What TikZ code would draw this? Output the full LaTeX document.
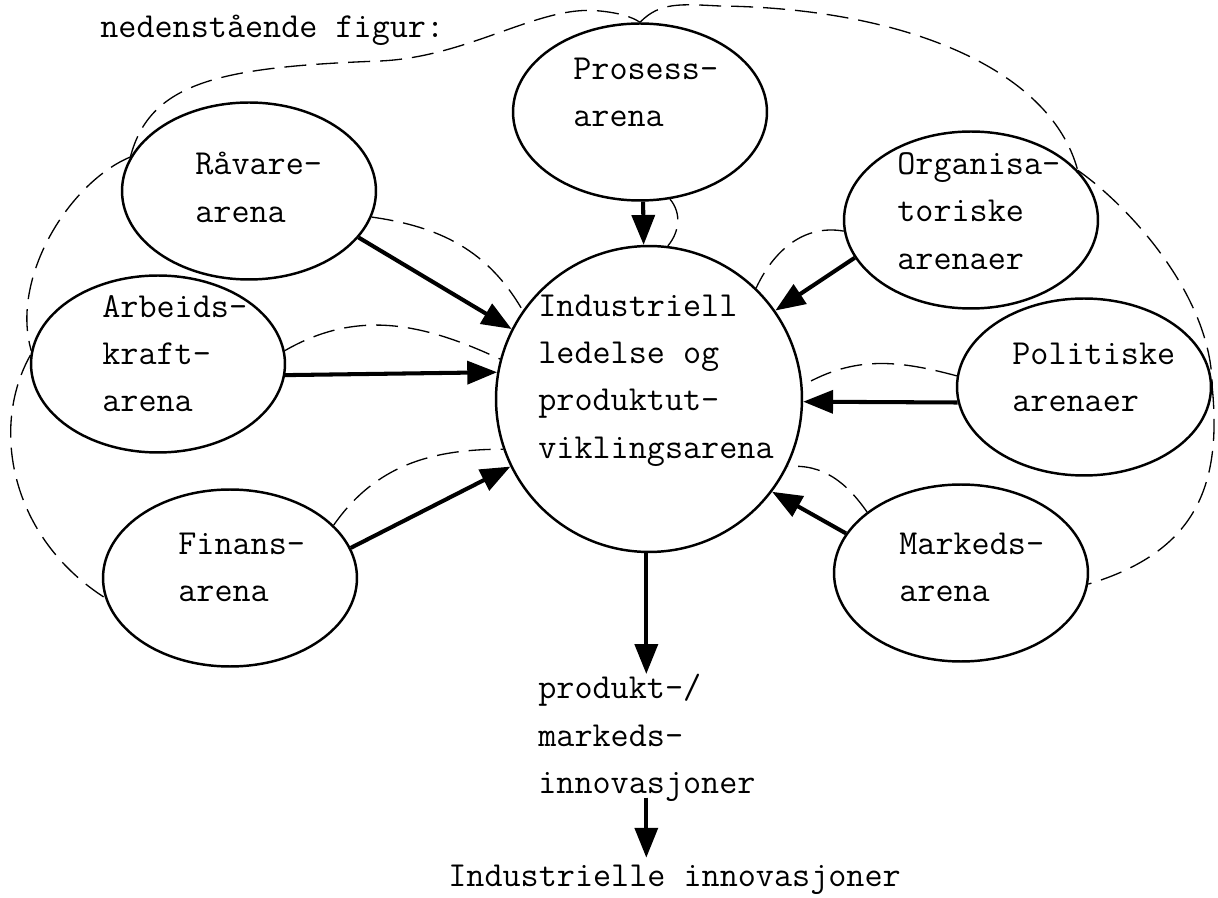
\documentclass[tikz,border=0pt]{standalone}
\usepackage{tikz}
\usetikzlibrary{shapes.geometric, arrows.meta, positioning}
\newcommand{\arenafont}{\fontsize{20}{27}\selectfont\ttfamily}
\tikzstyle{arena} = [ellipse, draw, line width=1.4pt, inner sep=0pt, minimum width=5.08cm, minimum height=3.54cm]
\tikzstyle{arenatext} = [align=left, font=\arenafont, inner sep=0pt, execute at begin node=\strut, execute at end node=\strut]
\tikzstyle{arrow} = [line width=2.3pt, -{Triangle[length=17pt,width=13pt]}]
\tikzstyle{tie} = [line width=0.75pt, dash pattern=on 12.5pt off 5.7pt]

\begin{document}
\begin{tikzpicture}[x=0.02cm, y=0.02cm]
            \useasboundingbox (0,0) rectangle (1218,897);
            % Centre
            \node[circle, draw, line width=1.4pt, minimum size=6.12cm, inner sep=0pt] (ind) at (649,498) {};
            \node[arenatext, anchor=west] (ind-t) at (538,513.4) {Industriell\\ledelse og\\produktut-\\viklingsarena};

            % Arenas
            \node[arena] (prosess) at (640,785) {};
            \node[arena] (raavare) at (249,706) {};
            \node[arena] (organ) at (971,677) {};
            \node[arena] (arbeid) at (158,533) {};
            \node[arena] (polit) at (1084,510) {};
            \node[arena] (finans) at (230,319) {};
            \node[arena] (marked) at (961,324) {};

            \node[arenatext, anchor=west] (prosess-t) at (573,797.4) {Prosess-\\arena};
            \node[arenatext, anchor=west] (raavare-t) at (195,702.4) {Råvare-\\arena};
            \node[arenatext, anchor=west] (organ-t) at (897,678.9) {Organisa-\\toriske\\arenaer};
            \node[arenatext, anchor=west] (arbeid-t) at (102,536.4) {Arbeids-\\kraft-\\arena};
            \node[arenatext, anchor=west] (polit-t) at (1012,512.4) {Politiske\\arenaer};
            \node[arenatext, anchor=west] (finans-t) at (178,322.4) {Finans-\\arena};
            \node[arenatext, anchor=west] (marked-t) at (899,322.9) {Markeds-\\arena};

            % Output
            \node[arenatext, anchor=west] (prod) at (538,155.9) {produkt-/\\markeds-\\innovasjoner};
            \node[arenatext, anchor=base west] (final) at (448,11) {Industrielle innovasjoner};
            \node[arenatext, anchor=base west] (title) at (100,859) {nedenstående figur:};

            % Flows
            \draw[arrow] (prosess.-88) -- (ind.92);
            \draw[arrow] (raavare.-23) -- (ind.153);
            \draw[arrow] (arbeid.-5) -- (ind.170);
            \draw[arrow] (finans.14) -- (ind.206);
            \draw[arrow] (organ.198) -- (ind.35);
            \draw[arrow] (polit.187) -- (ind.-1);
            \draw[arrow] (marked.161) -- (ind.-37);
            \draw[arrow] (ind.-91) -- (ind.-91 |- prod.north);
            \draw[arrow, shorten <=-6pt, shorten >=-3pt] (ind.-91 |- prod.south) -- (ind.-91 |- final.north);

            % Feedback
            \draw[tie] (prosess.-71) to[out=-50, in=50] (ind.83);
            \draw[tie] (raavare.-12) to[out=-8, in=120] (ind.145);
            \draw[tie] (arbeid.6) to[out=30, in=155] (ind.165);
            \draw[tie] (finans.27) to[out=55, in=180] (ind.199);
            \draw[tie] (organ.185) to[out=170, in=65] (ind.46);
            \draw[tie] (polit.175) to[out=165, in=30] (ind.5);
            \draw[tie] (marked.147) to[out=125, in=5] (ind.-26);

            % Outer loops
            \draw[tie] (raavare.164) .. controls (150,815) and (220,830) .. (380,836)
                .. controls (470,840) and (540,893) .. (600,886)
                .. controls (620,884) and (632,880) .. (prosess.north);
            \draw[tie] (prosess.north) .. controls (660,895) and (680,893) .. (720,891)
                .. controls (900,889) and (1050,830) .. (organ.25);
            \draw[tie] (organ.25) .. controls (1130,690) and (1212,600) .. (polit.east);
            \draw[tie] (polit.east) .. controls (1222,410) and (1195,345) .. (marked.-5);
            \draw[tie] (raavare.164) .. controls (70,715) and (10,620) .. (arbeid.174);
            \draw[tie] (arbeid.176) .. controls (-10,470) and (10,360) .. (finans.189);
\end{tikzpicture}
\end{document}
